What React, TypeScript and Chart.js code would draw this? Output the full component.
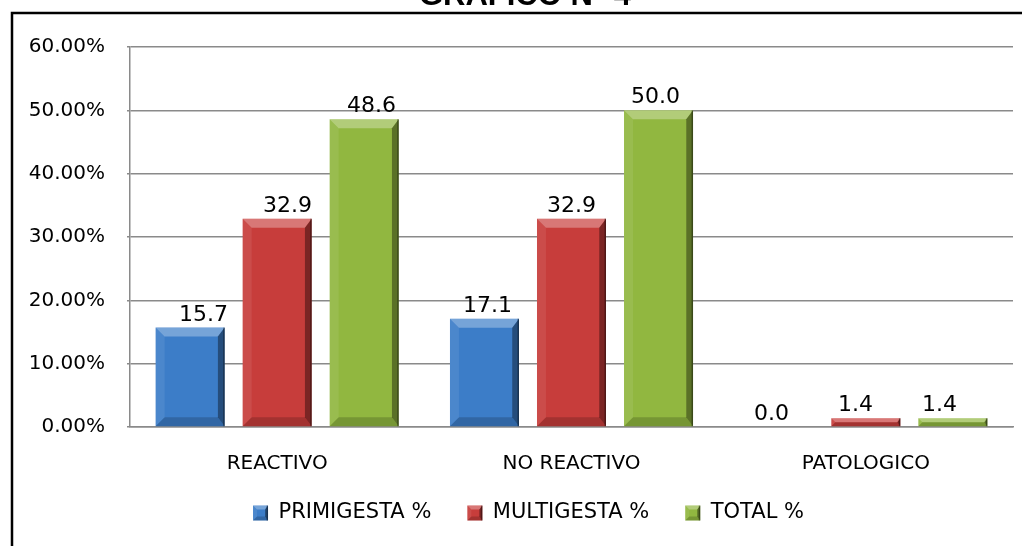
import { useEffect, useRef } from "react";
import { Chart, registerables } from "chart.js";

Chart.register(...registerables);

const title = "GRAFICO N° 4";
const categories = ["REACTIVO", "NO REACTIVO", "PATOLOGICO"];
const seriesLabels = ["PRIMIGESTA %", "MULTIGESTA %", "TOTAL %"];
const primigesta = [15.7, 17.1, 0.0];
const multigesta = [32.9, 32.9, 1.4];
const total = [48.6, 50.0, 1.4];
const yMin = 0;
const yMax = 60;
const yStep = 10;

const colors = ["#3c7dc8", "#c73d3b", "#91b740"];
const FONT = "'DejaVu Sans', sans-serif";
const LEGEND_PAD = 36;
const LEGEND_FONT = 21;

function poly(ctx: CanvasRenderingContext2D, pts: number[][], fill: string) {
  ctx.beginPath();
  ctx.moveTo(pts[0][0], pts[0][1]);
  for (let i = 1; i < pts.length; i++) ctx.lineTo(pts[i][0], pts[i][1]);
  ctx.closePath();
  ctx.fillStyle = fill;
  ctx.fill();
}

function bevel(ctx: CanvasRenderingContext2D, l: number, t: number, r: number, b: number, maxB: number) {
  const h = b - t;
  const w = r - l;
  if (h < 0.5 || w < 0.5) return;
  const bv = Math.min(maxB, h / 2, w / 2);
  const br = Math.min(bv * 0.75, h / 2);
  poly(ctx, [[l, t], [r, t], [r - br, t + bv], [l + bv, t + bv]], "rgba(255,255,255,0.30)");
  poly(ctx, [[l, t], [l + bv, t + bv], [l + bv, b - bv], [l, b]], "rgba(255,255,255,0.08)");
  poly(ctx, [[r, t], [r, b], [r - br, b - bv], [r - br, t + bv]], "rgba(0,0,0,0.38)");
  poly(ctx, [[l, b], [l + bv, b - bv], [r - br, b - bv], [r, b]], "rgba(0,0,0,0.18)");
  ctx.fillStyle = "rgba(0,0,0,0.35)";
  ctx.fillRect(r - 1.5, t, 1.5, h);
}

const decorPlugin = {
  id: "decor",
  afterLayout(chart: any) {
    const lg = chart.legend;
    if (!lg) return;
    const h = lg.height;
    lg.left += 22;
    lg.right += 22;
    lg.top = 513 - LEGEND_PAD - LEGEND_FONT / 2;
    lg.bottom = lg.top + h;
  },
  beforeDraw(chart: any) {
    const ctx = chart.ctx as CanvasRenderingContext2D;
    ctx.save();
    ctx.fillStyle = "#fff";
    ctx.fillRect(0, 0, chart.width, chart.height);
    ctx.strokeStyle = "#000";
    ctx.lineWidth = 2.5;
    ctx.beginPath();
    ctx.moveTo(12, chart.height + 5);
    ctx.lineTo(12, 13);
    ctx.lineTo(chart.width + 5, 13);
    ctx.stroke();
    ctx.fillStyle = "#000";
    ctx.font = "bold 31px 'Liberation Sans', Arial, sans-serif";
    ctx.textAlign = "center";
    ctx.textBaseline = "alphabetic";
    ctx.fillText(title, 525, 5);
    ctx.restore();
  },
  afterDatasetsDraw(chart: any) {
    const ctx = chart.ctx as CanvasRenderingContext2D;
    const area = chart.chartArea;
    const mid = (area.left + area.right) / 2;
    ctx.save();
    chart.data.datasets.forEach((ds: any, di: number) => {
      const meta = chart.getDatasetMeta(di);
      meta.data.forEach((el: any, i: number) => {
        const p = el.getProps(["x", "y", "base", "width"], true);
        const l = p.x - p.width / 2;
        const r = p.x + p.width / 2;
        const t = Math.min(p.y, p.base);
        const b = Math.max(p.y, p.base);
        bevel(ctx, l, t, r, b, 9);
        const v = ds.data[i] as number;
        ctx.fillStyle = "#000";
        ctx.font = "22px " + FONT;
        ctx.textAlign = "center";
        ctx.textBaseline = "alphabetic";
        const shift = -(p.x - mid) * 0.035;
        ctx.fillText(v.toFixed(1), p.x + shift, t - 7);
      });
    });
    ctx.restore();
  },
  afterDraw(chart: any) {
    const ctx = chart.ctx as CanvasRenderingContext2D;
    const lg = chart.legend;
    if (!lg || !lg.legendHitBoxes) return;
    ctx.save();
    lg.legendHitBoxes.forEach((hb: any) => {
      const bw = lg.options.labels.boxWidth;
      const bh = lg.options.labels.boxHeight;
      const top = hb.top + (hb.height - bh) / 2;
      bevel(ctx, hb.left, top, hb.left + bw, top + bh, 4);
    });
    ctx.restore();
  },
};

export default function App() {
  const ref = useRef<HTMLCanvasElement | null>(null);
  useEffect(() => {
    if (!ref.current) return;
    const chart = new Chart(ref.current, {
      type: "bar",
      data: {
        labels: categories,
        datasets: [
          { label: seriesLabels[0], data: primigesta, backgroundColor: colors[0] },
          { label: seriesLabels[1], data: multigesta, backgroundColor: colors[1] },
          { label: seriesLabels[2], data: total, backgroundColor: colors[2] },
        ],
      },
      options: {
        animation: false,
        responsive: false,
        devicePixelRatio: 1,
        datasets: { bar: { categoryPercentage: 0.887, barPercentage: 0.793 } },
        layout: { padding: { left: 0, right: 9, top: 47, bottom: 2 } },
        plugins: {
          title: { display: false },
          tooltip: { enabled: false },
          legend: {
            position: "bottom",
            labels: {
              boxWidth: 15,
              boxHeight: 15,
              padding: LEGEND_PAD,
              color: "#000",
              font: { family: FONT, size: LEGEND_FONT },
            },
          },
        },
        scales: {
          x: {
            grid: { display: false },
            border: { display: true, color: "#8a8a8a", width: 1.5 },
            ticks: { color: "#000", padding: 17, font: { family: FONT, size: 20 } },
            afterFit: (s: any) => {
              s.height = 50;
            },
          },
          y: {
            min: yMin,
            max: yMax,
            ticks: {
              stepSize: yStep,
              color: "#000",
              padding: 22,
              font: { family: FONT, size: 20 },
              callback: (v: any) => Number(v).toFixed(2) + "%",
            },
            grid: { color: "#8a8a8a", lineWidth: 1.5, tickLength: 3 },
            border: { display: true, color: "#8a8a8a", width: 1.5 },
            afterFit: (s: any) => {
              s.width = 130;
            },
          },
        },
      },
      plugins: [decorPlugin],
    });
    return () => chart.destroy();
  }, []);
  return (
    <div style={{ position: "fixed", left: 0, top: 0, width: 1022, height: 546 }}>
      <canvas ref={ref} width={1022} height={546} style={{ width: 1022, height: 546, display: "block" }} />
    </div>
  );
}
